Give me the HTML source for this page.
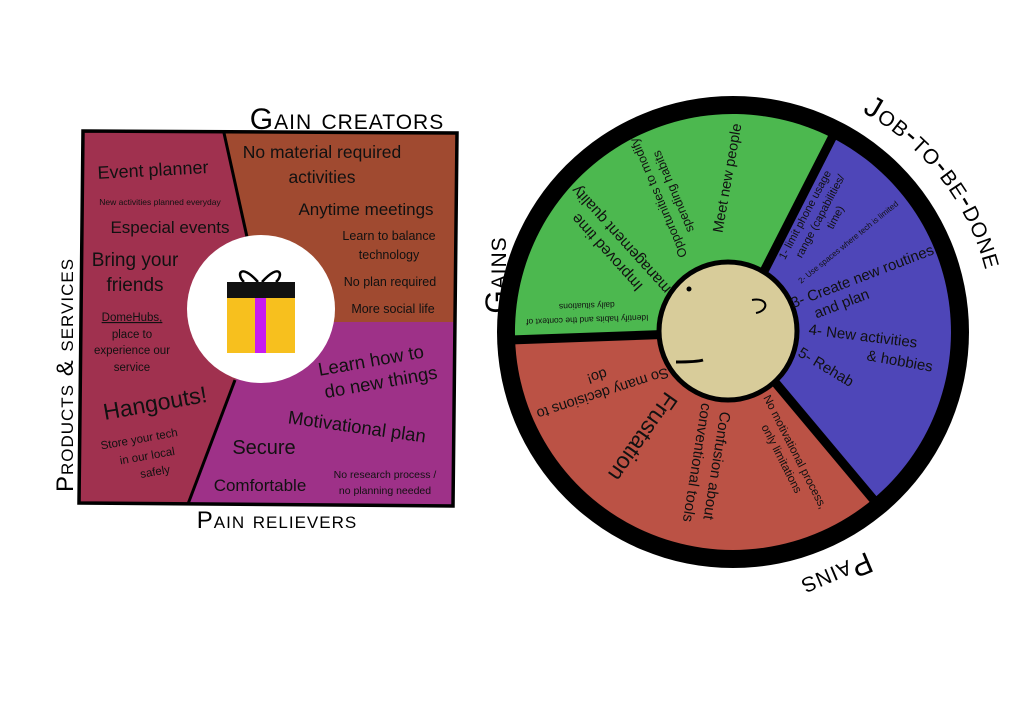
<!DOCTYPE html>
<html><head><meta charset="utf-8"><style>
html,body{margin:0;padding:0;background:#fff;}
svg{display:block;}
text{font-family:"Liberation Sans",sans-serif;fill:#111;}
.h{font-family:"Liberation Sans",sans-serif;font-variant:small-caps;fill:#000;letter-spacing:1px;}
</style></head><body>
<svg width="1023" height="723" viewBox="0 0 1023 723" xmlns="http://www.w3.org/2000/svg">
<rect width="1023" height="723" fill="#fff"/>
<!-- LEFT SQUARE -->
<polygon points="83,131 457,133 453,506 79,503" fill="#a0314f"/>
<polygon points="224,133 457,133 455,322 318,322 247,237" fill="#a04a30"/>
<polygon points="235,380 318,322 455,322 453,506 188,504" fill="#9e3188"/>
<polyline points="224,133 247,237" fill="none" stroke="#000" stroke-width="3"/>
<polyline points="235,380 188,504" fill="none" stroke="#000" stroke-width="3"/>
<polygon points="83,131 457,133 453,506 79,503" fill="none" stroke="#000" stroke-width="3.5"/>
<circle cx="261" cy="309" r="74" fill="#fff"/>
<path d="M258,282 C240,262 236,275 244,282 M262,282 C280,262 284,275 276,282" fill="none" stroke="#000" stroke-width="2.5"/>
<rect x="227" y="296" width="68" height="57" fill="#f7c01e"/>
<rect x="255" y="296" width="11" height="57" fill="#c81cf0"/>
<rect x="227" y="282" width="68" height="16" fill="#111"/>
<g font-size="17">
<text x="153" y="176" text-anchor="middle" transform="rotate(-3 153 170)" font-size="18">Event planner</text>
<text x="160" y="205" text-anchor="middle" font-size="8.5">New activities planned everyday</text>
<text x="170" y="233" text-anchor="middle">Especial events</text>
<text x="135" y="266" text-anchor="middle" font-size="19">Bring your</text>
<text x="135" y="291" text-anchor="middle" font-size="19">friends</text>
<text x="132" y="321" text-anchor="middle" font-size="11.5" text-decoration="underline">DomeHubs,</text>
<text x="132" y="338" text-anchor="middle" font-size="11.5">place to</text>
<text x="132" y="354" text-anchor="middle" font-size="11.5">experience our</text>
<text x="132" y="371" text-anchor="middle" font-size="11.5">service</text>
<text x="155" y="411" text-anchor="middle" font-size="23" transform="rotate(-10 155 403)">Hangouts!</text>
<g transform="rotate(-10 145 455)" font-size="11.5">
<text x="142" y="442" text-anchor="middle">Store your tech</text>
<text x="147" y="460" text-anchor="middle">in our local</text>
<text x="152" y="477" text-anchor="middle">safely</text></g>
<text x="322" y="158" text-anchor="middle" font-size="17.5">No material required</text>
<text x="322" y="183" text-anchor="middle" font-size="17.5">activities</text>
<text x="366" y="215" text-anchor="middle">Anytime meetings</text>
<text x="389" y="240" text-anchor="middle" font-size="12.5">Learn to balance</text>
<text x="389" y="259" text-anchor="middle" font-size="12.5">technology</text>
<text x="390" y="286" text-anchor="middle" font-size="12.5">No plan required</text>
<text x="393" y="313" text-anchor="middle" font-size="12.5">More social life</text>
<g transform="rotate(-10 376 372)" font-size="18.5">
<text x="373" y="366" text-anchor="middle">Learn how to</text>
<text x="379" y="389" text-anchor="middle">do new things</text></g>
<text x="357" y="433" text-anchor="middle" font-size="18.5" transform="rotate(8 357 427)">Motivational plan</text>
<text x="264" y="454" text-anchor="middle" font-size="20">Secure</text>
<text x="260" y="491" text-anchor="middle">Comfortable</text>
<text x="385" y="478" text-anchor="middle" font-size="10.5">No research process /</text>
<text x="385" y="494" text-anchor="middle" font-size="10.5">no planning needed</text>
</g>
<text class="h" x="347" y="129" text-anchor="middle" font-size="30">Gain creators</text>
<text class="h" x="277" y="528" text-anchor="middle" font-size="24">Pain relievers</text>
<text class="h" x="0" y="0" text-anchor="middle" font-size="24" transform="translate(73 375) rotate(-90)">Products &amp; services</text>

<!-- RIGHT CIRCLE -->
<circle cx="733" cy="332" r="236" fill="#000"/>
<path d="M733,332 L515.1,339.6 A218,218 0 0 1 832,137.8 Z" fill="#4cb84f"/>
<path d="M733,332 L832,137.8 A218,218 0 0 1 873.1,499 Z" fill="#4e46b8"/>
<path d="M733,332 L873.1,499 A218,218 0 0 1 515.1,339.6 Z" fill="#bb5245"/>
<g stroke="#000" stroke-width="9">
<line x1="733" y1="332" x2="510" y2="340"/>
<line x1="733" y1="332" x2="836" y2="130"/>
<line x1="733" y1="332" x2="878" y2="505"/>
</g>
<circle cx="728" cy="331" r="69" fill="#d8cc9a" stroke="#000" stroke-width="5"/>
<circle cx="689" cy="289" r="2.5" fill="#000"/>
<path d="M752,300 C768,297 770,310 756,313" fill="none" stroke="#000" stroke-width="2"/>
<path d="M676,362 C690,362 700,361 703,360" fill="none" stroke="#000" stroke-width="3"/>
<text x="727" y="183" text-anchor="middle" font-size="14.5" transform="rotate(-80 727 178)">Meet new people</text>
<g transform="rotate(-113 665 195)" font-size="12.5" text-anchor="middle">
<text x="665" y="192">Opportunities to modify</text>
<text x="665" y="208">spending habits</text></g>
<g transform="rotate(-132 613 247)" font-size="15.5" text-anchor="middle">
<text x="613" y="244">Improved time</text>
<text x="613" y="263">management quality</text></g>
<g transform="rotate(178 587 310)" font-size="8.5" text-anchor="middle">
<text x="587" y="303">Identify habits and the context of</text>
<text x="587" y="317">daily situations</text></g>
<g transform="rotate(-62 818 215)" font-size="11" text-anchor="middle">
<text x="812" y="207">1- limit phone usage</text>
<text x="818" y="221">range (capabilities/</text>
<text x="824" y="235">time)</text></g>
<text x="848" y="245" text-anchor="middle" font-size="8" transform="rotate(-39 848 242)">2- Use spaces where tech is limited</text>
<g transform="rotate(-21 860 290)" font-size="15" text-anchor="middle">
<text x="867" y="283">3- Create new routines</text>
<text x="838" y="301">and plan</text></g>
<text x="863" y="341" text-anchor="middle" font-size="15" transform="rotate(7 863 336)">4- New activities</text>
<text x="900" y="366" text-anchor="middle" font-size="15" transform="rotate(10 900 360)">&amp; hobbies</text>
<text x="826" y="372" text-anchor="middle" font-size="15" transform="rotate(31 826 367)">5- Rehab</text>
<g transform="rotate(162 600 385)" font-size="14.5" text-anchor="middle">
<text x="600" y="381">So many decisions to</text>
<text x="600" y="399">do!</text></g>
<text x="643" y="445" text-anchor="middle" font-size="23" transform="rotate(125 643 437)">Frustation</text>
<g transform="rotate(99 706 464)" font-size="15" text-anchor="middle">
<text x="706" y="458">Confusion about</text>
<text x="706" y="478">conventional tools</text></g>
<g transform="rotate(63 789 455)" font-size="11.5" text-anchor="middle">
<text x="789" y="452">No motivational process,</text>
<text x="789" y="467">only limitations</text></g>
<text class="h" x="0" y="0" text-anchor="middle" font-size="30" transform="translate(506 275) rotate(-90)">Gains</text>
<defs><path id="arc" d="M862,112 A252,252 0 0 1 990,375"/></defs>
<text class="h" font-size="30" letter-spacing="0"><textPath href="#arc">Job-to-be-done</textPath></text>
<text class="h" x="0" y="0" text-anchor="middle" font-size="30" transform="translate(833 566) rotate(157)">Pains</text>
</svg>
</body></html>
